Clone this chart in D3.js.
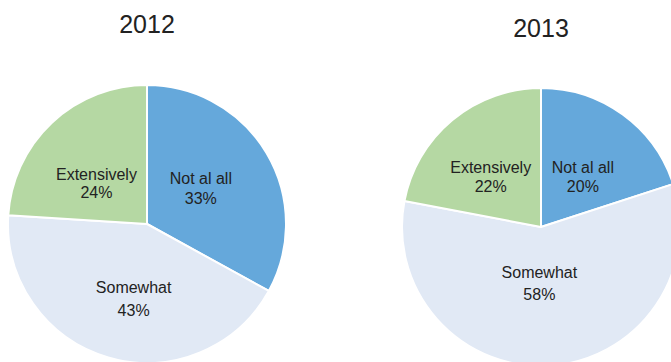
<!DOCTYPE html>
<html>
<head>
<meta charset="utf-8">
<script src="https://cdn.jsdelivr.net/npm/d3@7"></script>
<style>
  html, body { margin: 0; padding: 0; background: #fff; }
  svg { display: block; font-family: "Liberation Sans", Arial, sans-serif; }
</style>
</head>
<body>
<svg id="chart" width="671" height="362"></svg>
<script>
// Categories and values
const categories = ['Not al all', 'Somewhat', 'Extensively'];
const years = ['2012', '2013'];
const values2012 = [33, 43, 24];
const values2013 = [20, 58, 22];

const colors = ['#65a8db', '#e1e9f5', '#b5d8a3'];

const width = 671;
const height = 362;
const radius = 139;

// where each pie sits, plus small label nudges (Excel "best fit" placement)
const layout = [
    { cx: 147, cy: 224, titleY: 33, nudge: [[-6, -5], [6, 2], [-3, 7]], gap: [20, 23, 18] },
    { cx: 541, cy: 227, titleY: 37, nudge: [[1, 2], [-6, -18], [-6, 0]], gap: [19, 22, 19] }
];

const svg = d3.select('#chart');

const color = d3.scaleOrdinal()
    .domain(categories)
    .range(colors);

const pie = d3.pie()
    .value(d => d.value)
    .sort(null);

const arc = d3.arc()
    .innerRadius(0)
    .outerRadius(radius);

// centroid of this one lands at radius / 2
const labelArc = d3.arc()
    .innerRadius(0)
    .outerRadius(radius);

[values2012, values2013].forEach((vals, k) => {
    const L = layout[k];
    const data = categories.map((c, i) => ({ label: c, value: vals[i] }));

    svg.append('text')
        .attr('x', L.cx)
        .attr('y', L.titleY)
        .attr('text-anchor', 'middle')
        .attr('font-size', 25)
        .attr('fill', '#222')
        .text(years[k]);

    const g = svg.append('g')
        .attr('transform', `translate(${L.cx},${L.cy})`);

    const arcs = g.selectAll('.arc')
        .data(pie(data))
        .enter()
        .append('g')
        .attr('class', 'arc');

    arcs.append('path')
        .attr('d', arc)
        .attr('fill', d => color(d.data.label))
        .attr('stroke', '#fff')
        .attr('stroke-width', 2)
        .attr('stroke-linejoin', 'round');

    const txt = arcs.append('text')
        .attr('transform', (d, i) => {
            const c = labelArc.centroid(d);
            return `translate(${c[0] + L.nudge[i][0]},${c[1] + L.nudge[i][1]})`;
        })
        .attr('text-anchor', 'middle')
        .attr('font-size', 16)
        .attr('fill', '#222');

    txt.append('tspan')
        .attr('x', 0)
        .attr('y', 0)
        .text(d => d.data.label);

    txt.append('tspan')
        .attr('x', 0)
        .attr('y', (d, i) => L.gap[i])
        .text(d => d.data.value + '%');
});
</script>
</body>
</html>
